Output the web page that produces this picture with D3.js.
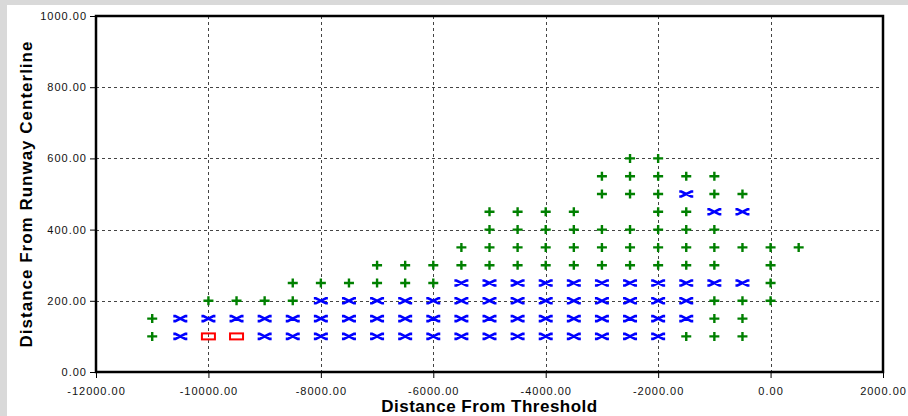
<!DOCTYPE html>
<html>
<head>
<meta charset="utf-8">
<script src="https://cdnjs.cloudflare.com/ajax/libs/d3/7.8.5/d3.min.js"></script>
<style>
    body { margin: 0; background: #d9d9d9; }
    #chart { position: absolute; left: 7px; top: 5px; }
    svg { display: block; }
    .tick-label { font-family: "Liberation Sans", Arial, sans-serif; font-size: 11px; letter-spacing: 1px; fill: #111; }
    .title { font-family: "Liberation Sans", Arial, sans-serif; font-size: 17px; font-weight: bold; fill: #000; }
</style>
</head>
<body>
<div id="chart"></div>
<script>
// Tick values on both axes
var xTicks = [-12000, -10000, -8000, -6000, -4000, -2000, 0, 2000];
var yTicks = [0, 200, 400, 600, 800, 1000];

// Green "+" points, one entry per row: [y, list of x]
var plusRows = [
    [600, [-2500, -2000]],
    [550, [-3000, -2500, -2000, -1500, -1000]],
    [500, [-3000, -2500, -2000, -1000, -500]],
    [450, [-5000, -4500, -4000, -3500, -2000, -1500]],
    [400, [-5000, -4500, -4000, -3500, -3000, -2500, -2000, -1500, -1000]],
    [350, [-5500, -5000, -4500, -4000, -3500, -3000, -2500, -2000, -1500, -1000, -500, 0, 500]],
    [300, [-7000, -6500, -6000, -5500, -5000, -4500, -4000, -3500, -3000, -2500, -2000, -1500, -1000, 0]],
    [250, [-8500, -8000, -7500, -7000, -6500, -6000, 0]],
    [200, [-10000, -9500, -9000, -8500, -1000, -500, 0]],
    [150, [-11000, -1000, -500]],
    [100, [-11000, -1500, -1000, -500]]
];

// Blue "x" points
var crossRows = [
    [500, [-1500]],
    [450, [-1000, -500]],
    [250, [-5500, -5000, -4500, -4000, -3500, -3000, -2500, -2000, -1500, -1000, -500]],
    [200, [-8000, -7500, -7000, -6500, -6000, -5500, -5000, -4500, -4000, -3500, -3000, -2500, -2000, -1500]],
    [150, [-10500, -10000, -9500, -9000, -8500, -8000, -7500, -7000, -6500, -6000, -5500, -5000, -4500, -4000, -3500, -3000, -2500, -2000, -1500]],
    [100, [-10500, -9000, -8500, -8000, -7500, -7000, -6500, -6000, -5500, -5000, -4500, -4000, -3500, -3000, -2500, -2000]]
];

// Red box points
var boxRows = [
    [100, [-10000, -9500]]
];

function flatten(rows) {
    var out = [];
    rows.forEach(function (r) {
        r[1].forEach(function (x) { out.push({ x: x, y: r[0] }); });
    });
    return out;
}

// Set SVG dimensions and margins (panel is offset 7,5 inside the page)
var margin = { top: 11, right: 25, bottom: 44, left: 89 },
    totalW = 901, totalH = 411,
    width = totalW - margin.left - margin.right,
    height = totalH - margin.top - margin.bottom;

var x = d3.scaleLinear().domain([-12000, 2000]).range([0, width]),
    y = d3.scaleLinear().domain([0, 1000]).range([height, 0]);

var svg = d3.select("#chart").append("svg")
    .attr("width", totalW)
    .attr("height", totalH)
    .style("background", "#fff");

var g = svg.append("g")
    .attr("transform", "translate(" + margin.left + "," + margin.top + ")");

// Dashed grid
g.append("g")
    .selectAll("line")
    .data(xTicks.slice(1, -1))
    .enter().append("line")
    .attr("x1", function (d) { return Math.round(x(d)) + 0.5; })
    .attr("x2", function (d) { return Math.round(x(d)) + 0.5; })
    .attr("y1", 0).attr("y2", height)
    .attr("stroke", "#444").attr("stroke-dasharray", "3,3");

g.append("g")
    .selectAll("line")
    .data(yTicks.slice(1, -1))
    .enter().append("line")
    .attr("y1", function (d) { return Math.round(y(d)) + 0.5; })
    .attr("y2", function (d) { return Math.round(y(d)) + 0.5; })
    .attr("x1", 0).attr("x2", width)
    .attr("stroke", "#444").attr("stroke-dasharray", "3,3");

// Axes
var xAxis = g.append("g")
    .attr("transform", "translate(0," + height + ")")
    .call(d3.axisBottom(x).tickValues(xTicks).tickSize(6).tickPadding(9)
        .tickFormat(function (d) { return d.toFixed(2); }));
var yAxis = g.append("g")
    .call(d3.axisLeft(y).tickValues(yTicks).tickSize(6).tickPadding(3)
        .tickFormat(function (d) { return d.toFixed(2); }));

[xAxis, yAxis].forEach(function (a) {
    a.select(".domain").remove();
    a.selectAll(".tick line").attr("stroke", "#000");
    a.selectAll(".tick text").attr("class", "tick-label").attr("font-family", null).attr("font-size", null);
});

// Markers
g.append("g")
    .selectAll("path")
    .data(flatten(plusRows))
    .enter().append("path")
    .attr("transform", function (d) { return "translate(" + x(d.x) + "," + y(d.y) + ")"; })
    .attr("d", "M-5,0H5M0,-4.5V4.5")
    .attr("stroke", "#008000").attr("stroke-width", 2.4).attr("fill", "none");

g.append("g")
    .selectAll("path")
    .data(flatten(crossRows))
    .enter().append("path")
    .attr("transform", function (d) { return "translate(" + x(d.x) + "," + y(d.y) + ")"; })
    .attr("d", "M-7,-2.5H-5L5,2.5H7M-7,2.5H-5L5,-2.5H7")
    .attr("stroke", "#0000ff").attr("stroke-width", 2.6).attr("fill", "none");

g.append("g")
    .selectAll("rect")
    .data(flatten(boxRows))
    .enter().append("rect")
    .attr("x", function (d) { return x(d.x) - 6.5; })
    .attr("y", function (d) { return y(d.y) - 3; })
    .attr("width", 13).attr("height", 6)
    .attr("stroke", "#ff0000").attr("stroke-width", 2).attr("fill", "none");

// Frame
g.append("rect")
    .attr("width", width).attr("height", height)
    .attr("fill", "none").attr("stroke", "#000").attr("stroke-width", 2.5);

// Axis titles
svg.append("text")
    .attr("class", "title")
    .attr("x", margin.left + width / 2)
    .attr("y", 407)
    .attr("text-anchor", "middle")
    .style("letter-spacing", "0.5px")
    .text("Distance From Threshold");

svg.append("text")
    .attr("class", "title")
    .attr("transform", "translate(25," + (margin.top + height / 2) + ") rotate(-90)")
    .attr("text-anchor", "middle")
    .style("letter-spacing", "1px")
    .text("Distance From Runway Centerline");
</script>
</body>
</html>
